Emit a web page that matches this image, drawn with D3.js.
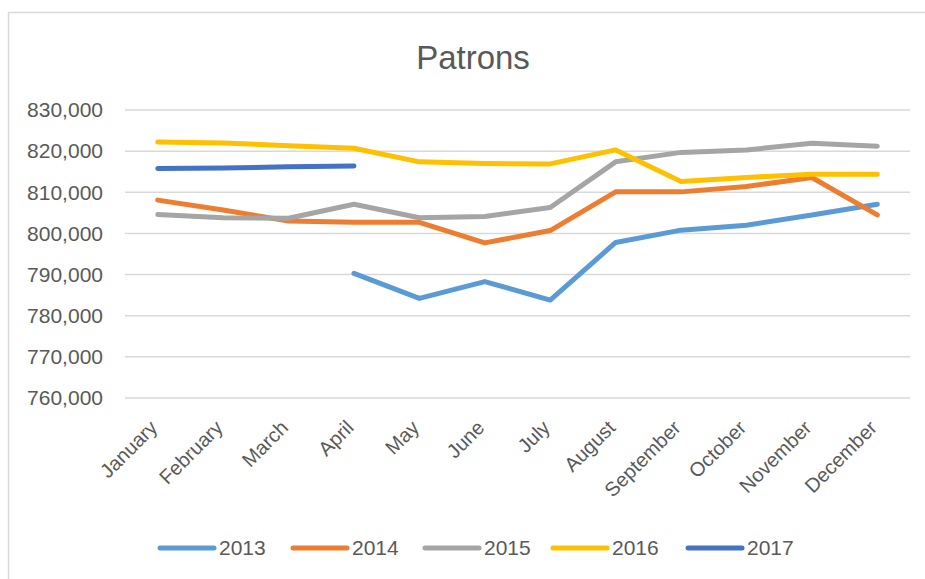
<!DOCTYPE html>
<html>
<head>
<meta charset="utf-8">
<script src="https://cdn.jsdelivr.net/npm/d3@7"></script>
<style>
  body { margin: 0; background: #fff; }
  text { font-family: "Liberation Sans", Arial, sans-serif; fill: #595959; }
</style>
</head>
<body>
<div id="chart"></div>
<script>
var months = ["January","February","March","April","May","June","July","August","September","October","November","December"];
var years = ["2013","2014","2015","2016","2017"];
var colors = ["#5B9BD5","#ED7D31","#A5A5A5","#FFC000","#4472C4"];
var yTicks = [760000,770000,780000,790000,800000,810000,820000,830000];

// patrons per month, null = no data
var s2013 = [null,null,null,790300,784200,788300,783800,797800,800800,802000,804500,807100];
var s2014 = [808100,805700,803000,802700,802700,797700,800700,810100,810100,811400,813600,804500];
var s2015 = [804600,803800,803700,807100,803800,804100,806300,817400,819700,820300,821900,821200];
var s2016 = [822200,822000,821300,820700,817400,817000,816900,820300,812600,813600,814400,814400];
var s2017 = [815800,815900,816200,816400,null,null,null,null,null,null,null,null];

var series = [s2013,s2014,s2015,s2016,s2017];

var width = 925, height = 579;
var svg = d3.select("#chart").append("svg")
  .attr("width", width)
  .attr("height", height);

// chart frame
svg.append("rect")
  .attr("x", 8.5).attr("y", 12.5)
  .attr("width", 940).attr("height", 600)
  .attr("fill", "#fff")
  .attr("stroke", "#D9D9D9")
  .attr("stroke-width", 1.5);

svg.append("text")
  .attr("x", 473).attr("y", 69)
  .attr("text-anchor", "middle")
  .style("font-size", "33px")
  .text("Patrons");

var x = d3.scaleBand().domain(months).range([125, 910]).padding(0);
var y = d3.scaleLinear().domain([760000, 830000]).range([398, 110]);
var fmt = d3.format(",");

// gridlines + y labels
var yAxis = svg.append("g").attr("class", "y-axis");
yAxis.selectAll("line")
  .data(yTicks)
  .enter()
  .append("line")
  .attr("x1", 125).attr("x2", 910)
  .attr("y1", function(d){ return y(d); })
  .attr("y2", function(d){ return y(d); })
  .attr("stroke", "#D9D9D9")
  .attr("stroke-width", 1.5);
yAxis.selectAll("text")
  .data(yTicks)
  .enter()
  .append("text")
  .attr("x", 103)
  .attr("y", function(d){ return y(d); })
  .attr("dy", "0.35em")
  .attr("text-anchor", "end")
  .style("font-size", "21px")
  .text(function(d){ return fmt(d); });

// month labels, rotated
svg.append("g").selectAll("text")
  .data(months)
  .enter()
  .append("text")
  .attr("transform", function(d){ return "translate(" + (x(d) + x.bandwidth()/2 - 4) + ",424) rotate(-45)"; })
  .attr("text-anchor", "end")
  .attr("dy", "0.35em")
  .style("font-size", "20px")
  .text(function(d){ return d; });

var line = d3.line()
  .defined(function(d){ return d != null; })
  .x(function(d, i){ return x(months[i]) + x.bandwidth()/2; })
  .y(function(d){ return y(d); });

svg.append("g").selectAll("path")
  .data(series)
  .enter()
  .append("path")
  .attr("d", line)
  .attr("fill", "none")
  .attr("stroke", function(d, i){ return colors[i]; })
  .attr("stroke-width", 5)
  .attr("stroke-linecap", "round")
  .attr("stroke-linejoin", "round");

// legend
var legX = [160, 293, 425, 553, 688];
var leg = svg.append("g").selectAll("g")
  .data(years)
  .enter()
  .append("g")
  .attr("transform", function(d, i){ return "translate(" + legX[i] + ",548)"; });
leg.append("line")
  .attr("x1", 0).attr("x2", 54)
  .attr("stroke", function(d, i){ return colors[i]; })
  .attr("stroke-width", 5)
  .attr("stroke-linecap", "round");
leg.append("text")
  .attr("x", 59)
  .attr("dy", "0.35em")
  .style("font-size", "21px")
  .text(function(d){ return d; });
</script>
</body>
</html>
